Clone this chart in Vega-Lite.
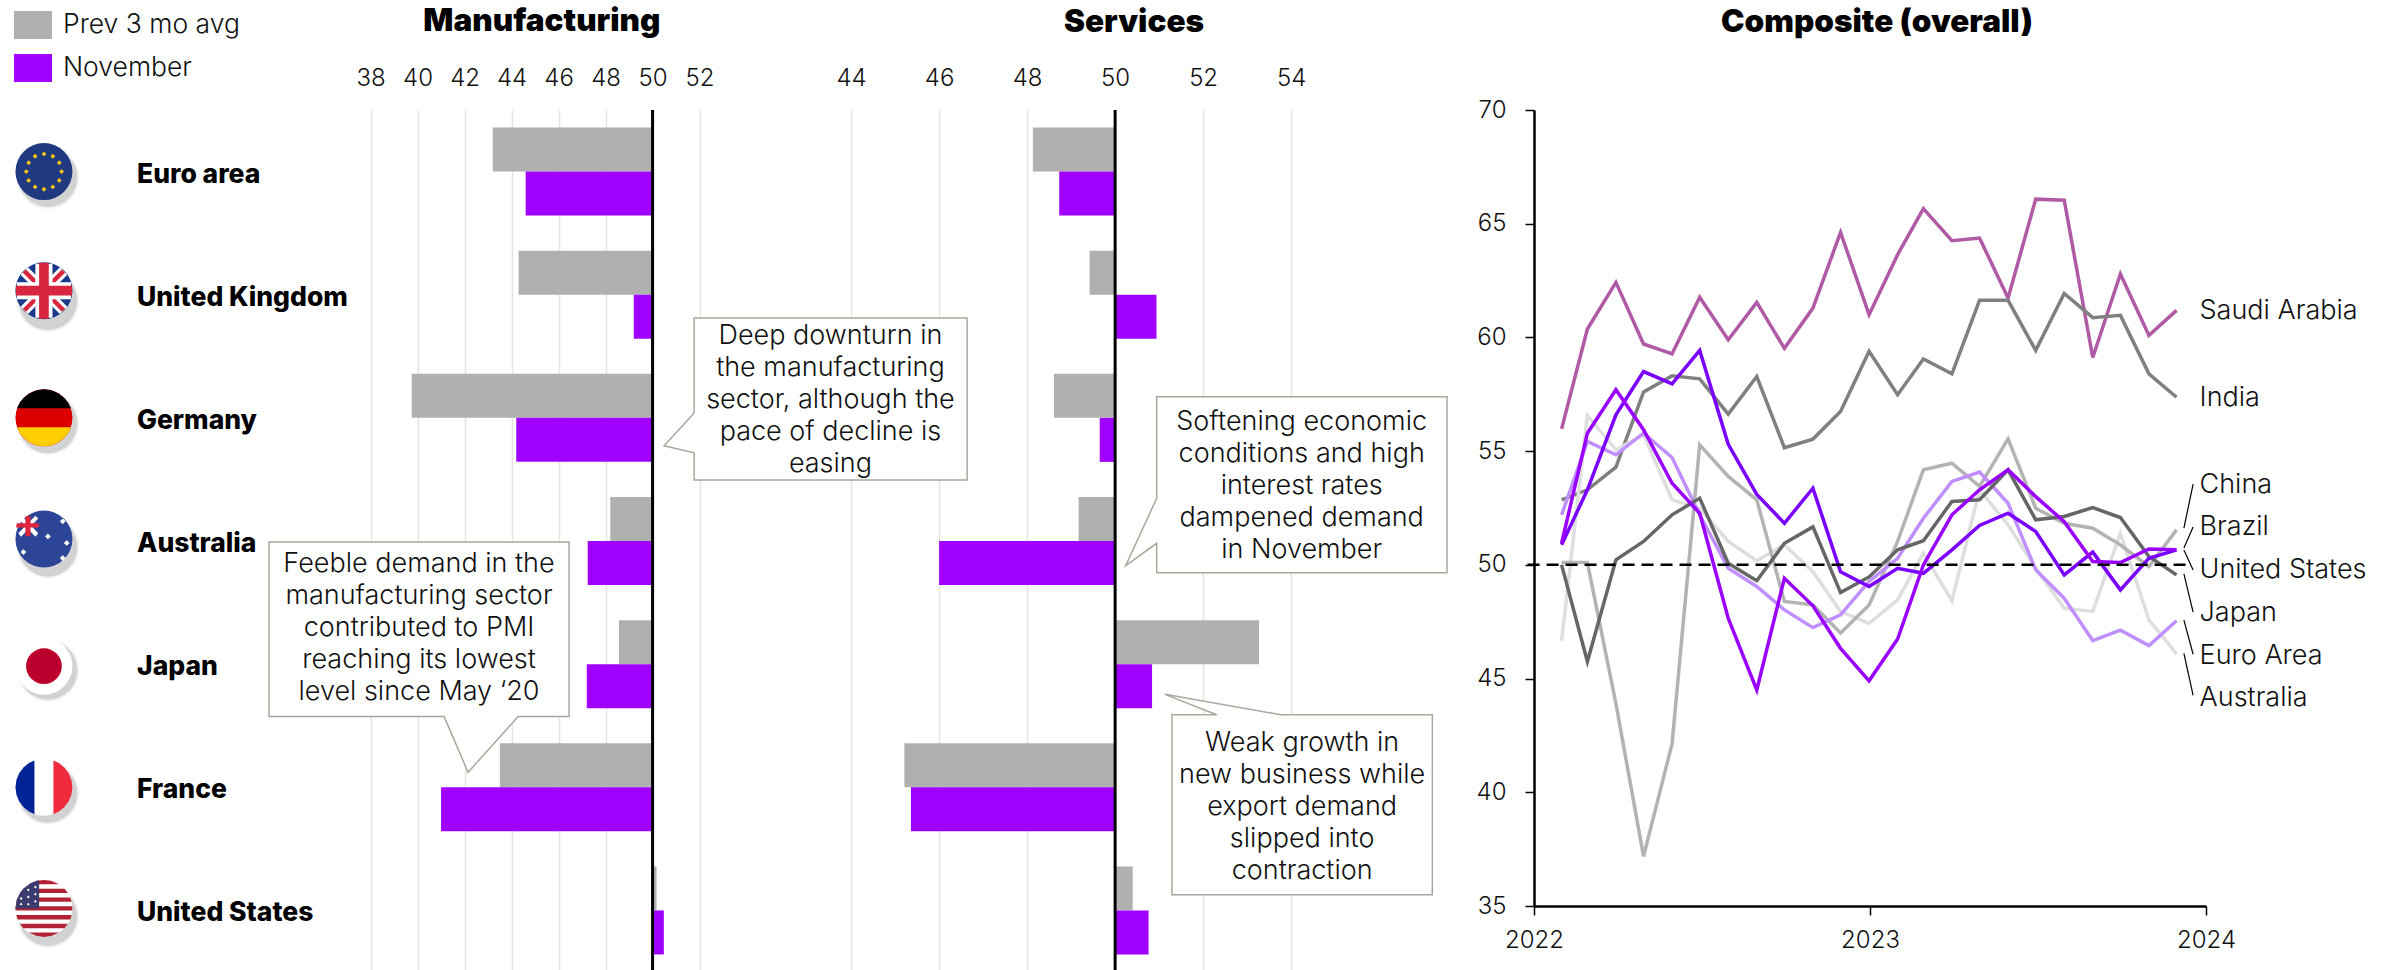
{
  "$schema": "https://vega.github.io/schema/vega-lite/v6.json",
  "background": "white",
  "padding": {"left": 0, "top": 6, "right": 0, "bottom": 0},
  "bounds": "flush",
  "spacing": 0,
  "config": {
    "view": {"stroke": null},
    "font": "Inter",
    "point": {"size": 3249, "filled": true, "opacity": 1, "strokeWidth": 0},
    "text": {"font": "Inter", "fontWeight": 300, "fontSize": 27, "color": "#111111", "lineHeight": 32, "baseline": "middle"},
    "axis": {"labelFont": "Inter", "labelFontWeight": 300, "labelFontSize": 24, "labelColor": "#111111", "title": null, "labelOverlap": false, "labelFlush": false},
    "title": {"font": "Inter", "fontWeight": 900, "fontSize": 31.5, "color": "#000000", "anchor": "middle"}
  },
  "resolve": {"scale": {"color": "independent"}, "legend": {"color": "independent"}},
  "datasets": {
    "pmi": [
      {"country": "Euro area", "sector": "Manufacturing", "series": "Prev 3 mo avg", "value": 43.2},
      {"country": "Euro area", "sector": "Manufacturing", "series": "November", "value": 44.6},
      {"country": "United Kingdom", "sector": "Manufacturing", "series": "Prev 3 mo avg", "value": 44.3},
      {"country": "United Kingdom", "sector": "Manufacturing", "series": "November", "value": 49.2},
      {"country": "Germany", "sector": "Manufacturing", "series": "Prev 3 mo avg", "value": 39.75},
      {"country": "Germany", "sector": "Manufacturing", "series": "November", "value": 44.2},
      {"country": "Australia", "sector": "Manufacturing", "series": "Prev 3 mo avg", "value": 48.2},
      {"country": "Australia", "sector": "Manufacturing", "series": "November", "value": 47.24},
      {"country": "Japan", "sector": "Manufacturing", "series": "Prev 3 mo avg", "value": 48.57},
      {"country": "Japan", "sector": "Manufacturing", "series": "November", "value": 47.2},
      {"country": "France", "sector": "Manufacturing", "series": "Prev 3 mo avg", "value": 43.5},
      {"country": "France", "sector": "Manufacturing", "series": "November", "value": 41.0},
      {"country": "United States", "sector": "Manufacturing", "series": "Prev 3 mo avg", "value": 50.17},
      {"country": "United States", "sector": "Manufacturing", "series": "November", "value": 50.48},
      {"country": "Euro area", "sector": "Services", "series": "Prev 3 mo avg", "value": 48.13},
      {"country": "Euro area", "sector": "Services", "series": "November", "value": 48.73},
      {"country": "United Kingdom", "sector": "Services", "series": "Prev 3 mo avg", "value": 49.42},
      {"country": "United Kingdom", "sector": "Services", "series": "November", "value": 50.94},
      {"country": "Germany", "sector": "Services", "series": "Prev 3 mo avg", "value": 48.61},
      {"country": "Germany", "sector": "Services", "series": "November", "value": 49.65},
      {"country": "Australia", "sector": "Services", "series": "Prev 3 mo avg", "value": 49.17},
      {"country": "Australia", "sector": "Services", "series": "November", "value": 46.0},
      {"country": "Japan", "sector": "Services", "series": "Prev 3 mo avg", "value": 53.27},
      {"country": "Japan", "sector": "Services", "series": "November", "value": 50.84},
      {"country": "France", "sector": "Services", "series": "Prev 3 mo avg", "value": 45.21},
      {"country": "France", "sector": "Services", "series": "November", "value": 45.36},
      {"country": "United States", "sector": "Services", "series": "Prev 3 mo avg", "value": 50.4},
      {"country": "United States", "sector": "Services", "series": "November", "value": 50.76}
    ],
    "countries": [
      {"country": "Euro area"}, {"country": "United Kingdom"}, {"country": "Germany"}, {"country": "Australia"},
      {"country": "Japan"}, {"country": "France"}, {"country": "United States"}
    ],
    "composite": [
      {"date": "2022-01-31", "Saudi Arabia": 55.98, "India": 52.86, "Australia": 46.66, "China": 50.1, "Euro Area": 52.2, "Japan": 50.0, "Brazil": 50.88, "United States": 50.95},
      {"date": "2022-02-28", "Saudi Arabia": 60.37, "India": 53.3, "Australia": 56.57, "China": 50.1, "Euro Area": 55.43, "Japan": 45.75, "Brazil": 53.3, "United States": 55.79},
      {"date": "2022-03-31", "Saudi Arabia": 62.42, "India": 54.3, "Australia": 55.06, "China": 43.9, "Euro Area": 54.84, "Japan": 50.22, "Brazil": 56.6, "United States": 57.7},
      {"date": "2022-04-30", "Saudi Arabia": 59.71, "India": 57.6, "Australia": 55.72, "China": 37.18, "Euro Area": 55.79, "Japan": 51.03, "Brazil": 58.5, "United States": 55.94},
      {"date": "2022-05-31", "Saudi Arabia": 59.28, "India": 58.31, "Australia": 52.86, "China": 42.14, "Euro Area": 54.72, "Japan": 52.2, "Brazil": 57.96, "United States": 53.59},
      {"date": "2022-06-30", "Saudi Arabia": 61.77, "India": 58.18, "Australia": 52.49, "China": 55.28, "Euro Area": 52.2, "Japan": 52.93, "Brazil": 59.43, "United States": 52.27},
      {"date": "2022-07-31", "Saudi Arabia": 59.9, "India": 56.63, "Australia": 51.03, "China": 53.89, "Euro Area": 49.85, "Japan": 50.07, "Brazil": 55.3, "United States": 47.65},
      {"date": "2022-08-31", "Saudi Arabia": 61.54, "India": 58.28, "Australia": 50.18, "China": 52.86, "Euro Area": 49.05, "Japan": 49.3, "Brazil": 53.1, "United States": 44.5},
      {"date": "2022-09-30", "Saudi Arabia": 59.52, "India": 55.15, "Australia": 50.88, "China": 48.39, "Euro Area": 48.02, "Japan": 50.95, "Brazil": 51.83, "United States": 49.41},
      {"date": "2022-10-31", "Saudi Arabia": 61.29, "India": 55.53, "Australia": 49.7, "China": 48.24, "Euro Area": 47.24, "Japan": 51.67, "Brazil": 53.37, "United States": 48.2},
      {"date": "2022-11-30", "Saudi Arabia": 64.62, "India": 56.74, "Australia": 47.95, "China": 47.0, "Euro Area": 47.8, "Japan": 48.78, "Brazil": 49.7, "United States": 46.33},
      {"date": "2022-12-31", "Saudi Arabia": 61.0, "India": 59.39, "Australia": 47.43, "China": 48.24, "Euro Area": 49.27, "Japan": 49.47, "Brazil": 49.05, "United States": 44.9},
      {"date": "2023-01-31", "Saudi Arabia": 63.64, "India": 57.48, "Australia": 48.46, "China": 51.03, "Euro Area": 50.29, "Japan": 50.66, "Brazil": 49.85, "United States": 46.74},
      {"date": "2023-02-28", "Saudi Arabia": 65.66, "India": 59.05, "Australia": 50.51, "China": 54.18, "Euro Area": 52.05, "Japan": 51.06, "Brazil": 49.63, "United States": 50.0},
      {"date": "2023-03-31", "Saudi Arabia": 64.25, "India": 58.4, "Australia": 48.42, "China": 54.47, "Euro Area": 53.67, "Japan": 52.79, "Brazil": 50.66, "United States": 52.2},
      {"date": "2023-04-30", "Saudi Arabia": 64.37, "India": 61.63, "Australia": 53.3, "China": 53.45, "Euro Area": 54.08, "Japan": 52.86, "Brazil": 51.73, "United States": 53.3},
      {"date": "2023-05-31", "Saudi Arabia": 61.73, "India": 61.63, "Australia": 51.76, "China": 55.54, "Euro Area": 52.71, "Japan": 54.18, "Brazil": 52.27, "United States": 54.18},
      {"date": "2023-06-30", "Saudi Arabia": 66.08, "India": 59.43, "Australia": 49.85, "China": 52.49, "Euro Area": 49.78, "Japan": 51.98, "Brazil": 51.47, "United States": 53.0},
      {"date": "2023-07-31", "Saudi Arabia": 66.03, "India": 61.93, "Australia": 48.09, "China": 51.83, "Euro Area": 48.53, "Japan": 52.13, "Brazil": 49.56, "United States": 51.9},
      {"date": "2023-08-31", "Saudi Arabia": 59.12, "India": 60.87, "Australia": 47.95, "China": 51.61, "Euro Area": 46.67, "Japan": 52.52, "Brazil": 50.56, "United States": 50.15},
      {"date": "2023-09-30", "Saudi Arabia": 62.79, "India": 60.97, "Australia": 51.39, "China": 50.88, "Euro Area": 47.13, "Japan": 52.08, "Brazil": 48.9, "United States": 50.1},
      {"date": "2023-10-31", "Saudi Arabia": 60.09, "India": 58.4, "Australia": 47.58, "China": 49.93, "Euro Area": 46.45, "Japan": 50.37, "Brazil": 50.29, "United States": 50.7},
      {"date": "2023-11-30", "Saudi Arabia": 61.19, "India": 57.37, "Australia": 46.08, "China": 51.54, "Euro Area": 47.54, "Japan": 49.56, "Brazil": 50.66, "United States": 50.66}
    ]
  },
  "hconcat": [
    {
      "width": 720,
      "height": 860,
      "layer": [
        {
          "data": {"name": "pmi"},
          "transform": [{"filter": {"field": "sector", "equal": "Manufacturing"}}],
          "mark": {"type": "bar", "size": 44},
          "encoding": {
            "x": {"field": "value", "type": "quantitative", "scale": {"domain": [22.23, 52.87], "nice": false, "zero": false},
              "axis": {"orient": "top", "values": [38, 40, 42, 44, 46, 48, 50, 52], "grid": true, "gridColor": "#e4e4e4", "gridWidth": 1.5, "ticks": false, "domain": false, "labelPadding": 20}},
            "x2": {"datum": 50},
            "y": {"field": "country", "type": "nominal", "axis": null,
              "scale": {"domain": ["Euro area", "United Kingdom", "Germany", "Australia", "Japan", "France", "United States"], "range": [0, 862], "paddingInner": 0.285, "paddingOuter": 0.1425}},
            "yOffset": {"field": "series", "type": "nominal", "scale": {"domain": ["Prev 3 mo avg", "November"], "paddingInner": 0, "paddingOuter": 0}},
            "color": {"field": "series", "type": "nominal",
              "scale": {"domain": ["Prev 3 mo avg", "November"], "range": ["#b0b0b0", "#a000ff"]},
              "legend": {"orient": "none", "legendX": 14, "legendY": -104, "title": null,
                "symbolType": "M-1,-.74L1,-.74L1,.74L-1,.74Z", "symbolSize": 1444, "symbolStrokeWidth": 0, "symbolOpacity": 1,
                "labelFont": "Inter", "labelFontWeight": 300, "labelFontSize": 26.5, "labelColor": "#111111", "labelOffset": 11, "labelLimit": 320, "rowPadding": 9}}
          }
        },
        {"data": {"values": [{}]}, "mark": {"type": "rule", "color": "#000000", "strokeWidth": 3}, "encoding": {"x": {"datum": 50, "type": "quantitative"}}},

        {"data": {"values": [{}]}, "mark": {"type": "text", "text": "Manufacturing", "font": "Inter", "fontWeight": 900, "fontSize": 31.5, "color": "#000000", "dy": -149.5},
          "encoding": {"x": {"datum": 45.29, "type": "quantitative"}, "y": {"datum": "Euro area", "type": "nominal"}}},

        {"data": {"name": "countries"}, "mark": {"type": "text", "align": "left", "fontWeight": 800, "fontSize": 26.5, "color": "#000000", "dy": 3},
          "encoding": {"x": {"datum": 28.06, "type": "quantitative"}, "y": {"field": "country", "type": "nominal"}, "text": {"field": "country", "type": "nominal"}}},

        {"data": {"name": "countries"}, "mark": {"type": "point", "shape": "circle", "size": 3900, "fill": "#000000", "opacity": 0.06, "xOffset": 4, "yOffset": 6},
          "encoding": {"x": {"datum": 24.1, "type": "quantitative"}, "y": {"field": "country", "type": "nominal"}}},
        {"data": {"name": "countries"}, "mark": {"type": "point", "shape": "circle", "size": 3450, "fill": "#000000", "opacity": 0.12, "xOffset": 4, "yOffset": 6},
          "encoding": {"x": {"datum": 24.1, "type": "quantitative"}, "y": {"field": "country", "type": "nominal"}}},

        {"data": {"values": [{}]}, "mark": {"type": "point", "shape": "circle", "fill": "#1f3a80"},
          "encoding": {"x": {"datum": 24.1, "type": "quantitative"}, "y": {"datum": "Euro area", "type": "nominal"}}},
        {"data": {"values": [{}]}, "mark": {"type": "point", "fill": "#f5c71a", "shape": "M0,-.705L.085,-.62L0,-.535L-.085,-.62ZM.31,-.622L.395,-.537L.31,-.452L.225,-.537ZM.537,-.395L.622,-.31L.537,-.225L.452,-.31ZM.62,-.085L.705,0L.62,.085L.535,0ZM.537,.225L.622,.31L.537,.395L.452,.31ZM.31,.452L.395,.537L.31,.622L.225,.537ZM0,.535L.085,.62L0,.705L-.085,.62ZM-.31,.452L-.225,.537L-.31,.622L-.395,.537ZM-.537,.225L-.452,.31L-.537,.395L-.622,.31ZM-.62,-.085L-.535,0L-.62,.085L-.705,0ZM-.537,-.395L-.452,-.31L-.537,-.225L-.622,-.31ZM-.31,-.622L-.225,-.537L-.31,-.452L-.395,-.537Z"},
          "encoding": {"x": {"datum": 24.1, "type": "quantitative"}, "y": {"datum": "Euro area", "type": "nominal"}}},

        {"data": {"values": [{}]}, "mark": {"type": "point", "shape": "circle", "fill": "#1a3a8c", "yOffset": -4},
          "encoding": {"x": {"datum": 24.1, "type": "quantitative"}, "y": {"datum": "United Kingdom", "type": "nominal"}}},
        {"data": {"values": [{}]}, "mark": {"type": "point", "fill": "#ffffff", "yOffset": -4, "shape": "M.56,.82L.82,.56L-.56,-.82L-.82,-.56ZM-.56,.82L-.82,.56L.56,-.82L.82,-.56Z"},
          "encoding": {"x": {"datum": 24.1, "type": "quantitative"}, "y": {"datum": "United Kingdom", "type": "nominal"}}},
        {"data": {"values": [{}]}, "mark": {"type": "point", "fill": "#d8263e", "yOffset": -4, "shape": "M.63,.74L.74,.63L-.63,-.74L-.74,-.63ZM-.63,.74L-.74,.63L.63,-.74L.74,-.63Z"},
          "encoding": {"x": {"datum": 24.1, "type": "quantitative"}, "y": {"datum": "United Kingdom", "type": "nominal"}}},
        {"data": {"values": [{}]}, "mark": {"type": "point", "fill": "#ffffff", "yOffset": -4, "shape": "M-.95,-.3L-.3,-.3L-.3,-.95L.3,-.95L.3,-.3L.95,-.3L.95,.3L.3,.3L.3,.95L-.3,.95L-.3,.3L-.95,.3Z"},
          "encoding": {"x": {"datum": 24.1, "type": "quantitative"}, "y": {"datum": "United Kingdom", "type": "nominal"}}},
        {"data": {"values": [{}]}, "mark": {"type": "point", "fill": "#d8263e", "yOffset": -4, "shape": "M-.985,-.17L-.17,-.17L-.17,-.985L.17,-.985L.17,-.17L.985,-.17L.985,.17L.17,.17L.17,.985L-.17,.985L-.17,.17L-.985,.17Z"},
          "encoding": {"x": {"datum": 24.1, "type": "quantitative"}, "y": {"datum": "United Kingdom", "type": "nominal"}}},

        {"data": {"values": [{}]}, "mark": {"type": "point", "shape": "circle", "fill": "#dd0000"},
          "encoding": {"x": {"datum": 24.1, "type": "quantitative"}, "y": {"datum": "Germany", "type": "nominal"}}},
        {"data": {"values": [{}]}, "mark": {"type": "point", "fill": "#000000", "shape": "M-.943,-.333L-.85,-.527L-.707,-.707L-.5,-.866L-.26,-.966L0,-1L.26,-.966L.5,-.866L.707,-.707L.85,-.527L.943,-.333Z"},
          "encoding": {"x": {"datum": 24.1, "type": "quantitative"}, "y": {"datum": "Germany", "type": "nominal"}}},
        {"data": {"values": [{}]}, "mark": {"type": "point", "fill": "#ffce00", "shape": "M-.943,.333L-.85,.527L-.707,.707L-.5,.866L-.26,.966L0,1L.26,.966L.5,.866L.707,.707L.85,.527L.943,.333Z"},
          "encoding": {"x": {"datum": 24.1, "type": "quantitative"}, "y": {"datum": "Germany", "type": "nominal"}}},

        {"data": {"values": [{}]}, "mark": {"type": "point", "shape": "circle", "fill": "#2d4596", "yOffset": -2},
          "encoding": {"x": {"datum": 24.1, "type": "quantitative"}, "y": {"datum": "Australia", "type": "nominal"}}},
        {"data": {"values": [{}]}, "mark": {"type": "point", "fill": "#ffffff", "yOffset": -2, "shape": "M-.9,-.72L-.78,-.82L-.2,-.2L-.3,-.08ZM-.2,-.72L-.3,-.82L-.9,-.2L-.8,-.08ZM.66,-.72L.76,-.62L.66,-.52L.56,-.62ZM.14,-.19L.24,-.09L.14,.01L.04,-.09ZM.8,.04L.9,.14L.8,.24L.7,.14ZM.66,.57L.76,.67L.66,.77L.56,.67ZM-.72,.36L-.62,.46L-.72,.56L-.82,.46Z"},
          "encoding": {"x": {"datum": 24.1, "type": "quantitative"}, "y": {"datum": "Australia", "type": "nominal"}}},
        {"data": {"values": [{}]}, "mark": {"type": "point", "fill": "#e0263c", "yOffset": -2, "shape": "M-.95,-.55L-.65,-.55L-.65,-.8L-.47,-.8L-.47,-.55L-.18,-.55L-.18,-.4L-.47,-.4L-.47,-.1L-.65,-.1L-.65,-.4L-.98,-.4Z"},
          "encoding": {"x": {"datum": 24.1, "type": "quantitative"}, "y": {"datum": "Australia", "type": "nominal"}}},

        {"data": {"values": [{}]}, "mark": {"type": "point", "shape": "circle", "fill": "#ffffff", "yOffset": 2},
          "encoding": {"x": {"datum": 24.1, "type": "quantitative"}, "y": {"datum": "Japan", "type": "nominal"}}},
        {"data": {"values": [{}]}, "mark": {"type": "point", "shape": "circle", "size": 1274, "fill": "#bc002d", "yOffset": 2},
          "encoding": {"x": {"datum": 24.1, "type": "quantitative"}, "y": {"datum": "Japan", "type": "nominal"}}},

        {"data": {"values": [{}]}, "mark": {"type": "point", "shape": "circle", "fill": "#ffffff"},
          "encoding": {"x": {"datum": 24.1, "type": "quantitative"}, "y": {"datum": "France", "type": "nominal"}}},
        {"data": {"values": [{}]}, "mark": {"type": "point", "fill": "#002395", "shape": "M-.333,-.943L-.527,-.85L-.707,-.707L-.866,-.5L-.966,-.26L-1,0L-.966,.26L-.866,.5L-.707,.707L-.527,.85L-.333,.943Z"},
          "encoding": {"x": {"datum": 24.1, "type": "quantitative"}, "y": {"datum": "France", "type": "nominal"}}},
        {"data": {"values": [{}]}, "mark": {"type": "point", "fill": "#ef2b3d", "shape": "M.333,-.943L.527,-.85L.707,-.707L.866,-.5L.966,-.26L1,0L.966,.26L.866,.5L.707,.707L.527,.85L.333,.943Z"},
          "encoding": {"x": {"datum": 24.1, "type": "quantitative"}, "y": {"datum": "France", "type": "nominal"}}},

        {"data": {"values": [{}]}, "mark": {"type": "point", "shape": "circle", "fill": "#ffffff", "yOffset": -2},
          "encoding": {"x": {"datum": 24.1, "type": "quantitative"}, "y": {"datum": "United States", "type": "nominal"}}},
        {"data": {"values": [{}]}, "mark": {"type": "point", "fill": "#b22234", "yOffset": -2, "shape": "M-.533,-.846L-.25,-.968L0,-1L.25,-.968L.533,-.846ZM-.722,-.692L.722,-.692L.843,-.538L-.843,-.538ZM-.923,-.385L.923,-.385L.973,-.231L-.973,-.231ZM-.997,-.077L.997,-.077L.997,.077L-.997,.077ZM-.973,.231L.973,.231L.923,.385L-.923,.385ZM-.843,.538L.843,.538L.722,.692L-.722,.692ZM-.533,.846L.533,.846L.25,.968L0,1L-.25,.968Z"},
          "encoding": {"x": {"datum": 24.1, "type": "quantitative"}, "y": {"datum": "United States", "type": "nominal"}}},
        {"data": {"values": [{}]}, "mark": {"type": "point", "fill": "#3c3b6e", "yOffset": -2, "shape": "M-.17,-.985L-.17,0L-1,0L-.966,-.26L-.866,-.5L-.707,-.707L-.5,-.866L-.3,-.954Z"},
          "encoding": {"x": {"datum": 24.1, "type": "quantitative"}, "y": {"datum": "United States", "type": "nominal"}}},
        {"data": {"values": [{}]}, "mark": {"type": "point", "fill": "#ffffff", "yOffset": -2, "shape": "M-.3,-.8L-.25,-.75L-.3,-.7L-.35,-.75ZM-.55,-.7L-.5,-.65L-.55,-.6L-.6,-.65ZM-.3,-.55L-.25,-.5L-.3,-.45L-.35,-.5ZM-.55,-.45L-.5,-.4L-.55,-.35L-.6,-.4ZM-.8,-.4L-.75,-.35L-.8,-.3L-.85,-.35ZM-.3,-.3L-.25,-.25L-.3,-.2L-.35,-.25ZM-.55,-.2L-.5,-.15L-.55,-.1L-.6,-.15ZM-.8,-.2L-.75,-.15L-.8,-.1L-.85,-.15Z"},
          "encoding": {"x": {"datum": 24.1, "type": "quantitative"}, "y": {"datum": "United States", "type": "nominal"}}},

        {"data": {"values": [{}]}, "mark": {"type": "point", "size": 4, "fill": "#ffffff", "stroke": "#a8a89e", "strokeWidth": 1.5,
            "shape": "M-199,-245.3L101,-245.3L101,-70.7L50,-70.7L0,-15L-24,-70.7L-199,-70.7Z"},
          "encoding": {"x": {"datum": 42.15, "type": "quantitative"}, "y": {"datum": "France", "type": "nominal"}}},
        {"data": {"values": [{}]}, "mark": {"type": "text", "dy": -100.6, "text": ["Feeble demand in the", "manufacturing sector", "contributed to PMI", "reaching its lowest", "level since May ‘20"]},
          "encoding": {"x": {"datum": 40.06, "type": "quantitative"}, "y": {"datum": "Japan", "type": "nominal"}}}
      ]
    },
    {
      "title": {"text": "Services", "dx": 7, "offset": 28},
      "width": 814,
      "height": 860,
      "layer": [
        {
          "data": {"name": "pmi"},
          "transform": [{"filter": {"field": "sector", "equal": "Services"}}],
          "mark": {"type": "bar", "size": 44},
          "encoding": {
            "x": {"field": "value", "type": "quantitative", "scale": {"domain": [41.02, 59.52], "nice": false, "zero": false},
              "axis": {"orient": "top", "values": [44, 46, 48, 50, 52, 54], "grid": true, "gridColor": "#e4e4e4", "gridWidth": 1.5, "ticks": false, "domain": false, "labelPadding": 20}},
            "x2": {"datum": 50},
            "y": {"field": "country", "type": "nominal", "axis": null,
              "scale": {"domain": ["Euro area", "United Kingdom", "Germany", "Australia", "Japan", "France", "United States"], "range": [0, 862], "paddingInner": 0.285, "paddingOuter": 0.1425}},
            "yOffset": {"field": "series", "type": "nominal", "scale": {"domain": ["Prev 3 mo avg", "November"], "paddingInner": 0, "paddingOuter": 0}},
            "color": {"field": "series", "type": "nominal", "scale": {"domain": ["Prev 3 mo avg", "November"], "range": ["#b0b0b0", "#a000ff"]}, "legend": null}
          }
        },
        {"data": {"values": [{}]}, "mark": {"type": "rule", "color": "#000000", "strokeWidth": 3}, "encoding": {"x": {"datum": 50, "type": "quantitative"}}},

        {"data": {"values": [{}]}, "mark": {"type": "point", "size": 4, "fill": "#ffffff", "stroke": "#a8a89e", "strokeWidth": 1.5,
            "shape": "M30,-99.8L303,-99.8L303,62.2L30,62.2L30,34.9L0,27.9L30,-4.8Z"},
          "encoding": {"x": {"datum": 39.75, "type": "quantitative"}, "y": {"datum": "Germany", "type": "nominal"}}},
        {"data": {"values": [{}]}, "mark": {"type": "text", "dy": -81.8, "text": ["Deep downturn in", "the manufacturing", "sector, although the", "pace of decline is", "easing"]},
          "encoding": {"x": {"datum": 43.53, "type": "quantitative"}, "y": {"datum": "Germany", "type": "nominal"}}},

        {"data": {"values": [{}]}, "mark": {"type": "point", "size": 4, "fill": "#ffffff", "stroke": "#a8a89e", "strokeWidth": 1.5,
            "shape": "M31,-144.3L321.3,-144.3L321.3,31.7L31,31.7L31,2.3L0,24.7L31,-42.7Z"},
          "encoding": {"x": {"datum": 50.24, "type": "quantitative"}, "y": {"datum": "Australia", "type": "nominal"}}},
        {"data": {"values": [{}]}, "mark": {"type": "text", "dy": -119.3, "text": ["Softening economic", "conditions and high", "interest rates", "dampened demand", "in November"]},
          "encoding": {"x": {"datum": 54.24, "type": "quantitative"}, "y": {"datum": "Australia", "type": "nominal"}}},

        {"data": {"values": [{}]}, "mark": {"type": "point", "size": 4, "fill": "#ffffff", "stroke": "#a8a89e", "strokeWidth": 1.5,
            "shape": "M7.1,50.6L51.9,50.6L0,30.2L116.2,50.6L267.5,50.6L267.5,230.6L7.1,230.6Z"},
          "encoding": {"x": {"datum": 51.13, "type": "quantitative"}, "y": {"datum": "Japan", "type": "nominal"}}},
        {"data": {"values": [{}]}, "mark": {"type": "text", "dy": 78.6, "text": ["Weak growth in", "new business while", "export demand", "slipped into", "contraction"]},
          "encoding": {"x": {"datum": 54.25, "type": "quantitative"}, "y": {"datum": "Japan", "type": "nominal"}}}
      ]
    },
    {
      "title": {"text": "Composite (overall)", "dx": 7, "offset": 60},
      "width": 672,
      "height": 796,
      "layer": [
        {
          "data": {"name": "composite"},
          "transform": [{"fold": ["Saudi Arabia", "India", "Australia", "China", "Euro Area", "Japan", "Brazil", "United States"], "as": ["country", "pmi"]}],
          "mark": {"type": "line", "strokeWidth": 3.5, "strokeJoin": "miter"},
          "encoding": {
            "x": {"field": "date", "type": "temporal",
              "scale": {"type": "utc", "domain": [{"year": 2022, "month": 1, "date": 1, "utc": true}, {"year": 2024, "month": 1, "date": 1, "utc": true}]},
              "axis": {"values": [{"year": 2022, "month": 1, "date": 1, "utc": true}, {"year": 2023, "month": 1, "date": 1, "utc": true}, {"year": 2024, "month": 1, "date": 1, "utc": true}],
                "format": "%Y", "formatType": "utc", "grid": false, "domainColor": "#000000", "domainWidth": 2.5, "tickColor": "#000000", "tickWidth": 1.5, "tickSize": 9, "labelPadding": 13}},
            "y": {"field": "pmi", "type": "quantitative", "scale": {"domain": [35, 70], "nice": false, "zero": false},
              "axis": {"values": [35, 40, 45, 50, 55, 60, 65, 70], "grid": false, "domainColor": "#000000", "domainWidth": 2.5, "tickColor": "#000000", "tickWidth": 1.5, "tickSize": 9, "labelPadding": 19}},
            "color": {"field": "country", "type": "nominal", "legend": null,
              "scale": {"domain": ["Saudi Arabia", "India", "Australia", "China", "Euro Area", "Japan", "Brazil", "United States"],
                "range": ["#b05aa5", "#808080", "#dedede", "#b3b3b3", "#bf8fff", "#666666", "#7a00ff", "#9a00ff"]}}
          }
        },
        {"data": {"values": [{}]}, "mark": {"type": "rule", "color": "#000000", "strokeWidth": 2.5, "strokeDash": [12, 7]},
          "encoding": {"x": {"datum": {"year": 2021, "month": 12, "date": 25, "utc": true}, "type": "temporal"}, "x2": {"datum": {"year": 2023, "month": 12, "date": 17, "utc": true}}, "y": {"datum": 50, "type": "quantitative"}}},

        {"data": {"values": [{}]}, "mark": {"type": "rule", "color": "#000000", "strokeWidth": 1.2}, "encoding": {"x": {"datum": {"year": 2023, "month": 12, "date": 8, "utc": true}, "type": "temporal"}, "x2": {"datum": {"year": 2023, "month": 12, "date": 18, "utc": true}}, "y": {"datum": 51.62, "type": "quantitative"}, "y2": {"datum": 53.55}}},
        {"data": {"values": [{}]}, "mark": {"type": "rule", "color": "#000000", "strokeWidth": 1.2}, "encoding": {"x": {"datum": {"year": 2023, "month": 12, "date": 8, "utc": true}, "type": "temporal"}, "x2": {"datum": {"year": 2023, "month": 12, "date": 18, "utc": true}}, "y": {"datum": 50.74, "type": "quantitative"}, "y2": {"datum": 51.66}}},
        {"data": {"values": [{}]}, "mark": {"type": "rule", "color": "#000000", "strokeWidth": 1.2}, "encoding": {"x": {"datum": {"year": 2023, "month": 12, "date": 8, "utc": true}, "type": "temporal"}, "x2": {"datum": {"year": 2023, "month": 12, "date": 18, "utc": true}}, "y": {"datum": 50.65, "type": "quantitative"}, "y2": {"datum": 49.77}}},
        {"data": {"values": [{}]}, "mark": {"type": "rule", "color": "#000000", "strokeWidth": 1.2}, "encoding": {"x": {"datum": {"year": 2023, "month": 12, "date": 8, "utc": true}, "type": "temporal"}, "x2": {"datum": {"year": 2023, "month": 12, "date": 18, "utc": true}}, "y": {"datum": 49.6, "type": "quantitative"}, "y2": {"datum": 47.92}}},
        {"data": {"values": [{}]}, "mark": {"type": "rule", "color": "#000000", "strokeWidth": 1.2}, "encoding": {"x": {"datum": {"year": 2023, "month": 12, "date": 8, "utc": true}, "type": "temporal"}, "x2": {"datum": {"year": 2023, "month": 12, "date": 18, "utc": true}}, "y": {"datum": 47.57, "type": "quantitative"}, "y2": {"datum": 46.07}}},
        {"data": {"values": [{}]}, "mark": {"type": "rule", "color": "#000000", "strokeWidth": 1.2}, "encoding": {"x": {"datum": {"year": 2023, "month": 12, "date": 8, "utc": true}, "type": "temporal"}, "x2": {"datum": {"year": 2023, "month": 12, "date": 18, "utc": true}}, "y": {"datum": 46.11, "type": "quantitative"}, "y2": {"datum": 44.26}}},

        {"data": {"values": [{}]}, "mark": {"type": "text", "align": "left", "text": "Saudi Arabia"}, "encoding": {"x": {"datum": {"year": 2023, "month": 12, "date": 25, "utc": true}, "type": "temporal"}, "y": {"datum": 61.17, "type": "quantitative"}}},
        {"data": {"values": [{}]}, "mark": {"type": "text", "align": "left", "text": "India"}, "encoding": {"x": {"datum": {"year": 2023, "month": 12, "date": 25, "utc": true}, "type": "temporal"}, "y": {"datum": 57.34, "type": "quantitative"}}},
        {"data": {"values": [{}]}, "mark": {"type": "text", "align": "left", "text": "China"}, "encoding": {"x": {"datum": {"year": 2023, "month": 12, "date": 25, "utc": true}, "type": "temporal"}, "y": {"datum": 53.51, "type": "quantitative"}}},
        {"data": {"values": [{}]}, "mark": {"type": "text", "align": "left", "text": "Brazil"}, "encoding": {"x": {"datum": {"year": 2023, "month": 12, "date": 25, "utc": true}, "type": "temporal"}, "y": {"datum": 51.66, "type": "quantitative"}}},
        {"data": {"values": [{}]}, "mark": {"type": "text", "align": "left", "text": "United States"}, "encoding": {"x": {"datum": {"year": 2023, "month": 12, "date": 25, "utc": true}, "type": "temporal"}, "y": {"datum": 49.77, "type": "quantitative"}}},
        {"data": {"values": [{}]}, "mark": {"type": "text", "align": "left", "text": "Japan"}, "encoding": {"x": {"datum": {"year": 2023, "month": 12, "date": 25, "utc": true}, "type": "temporal"}, "y": {"datum": 47.87, "type": "quantitative"}}},
        {"data": {"values": [{}]}, "mark": {"type": "text", "align": "left", "text": "Euro Area"}, "encoding": {"x": {"datum": {"year": 2023, "month": 12, "date": 25, "utc": true}, "type": "temporal"}, "y": {"datum": 45.98, "type": "quantitative"}}},
        {"data": {"values": [{}]}, "mark": {"type": "text", "align": "left", "text": "Australia"}, "encoding": {"x": {"datum": {"year": 2023, "month": 12, "date": 25, "utc": true}, "type": "temporal"}, "y": {"datum": 44.13, "type": "quantitative"}}}
      ]
    }
  ]
}
